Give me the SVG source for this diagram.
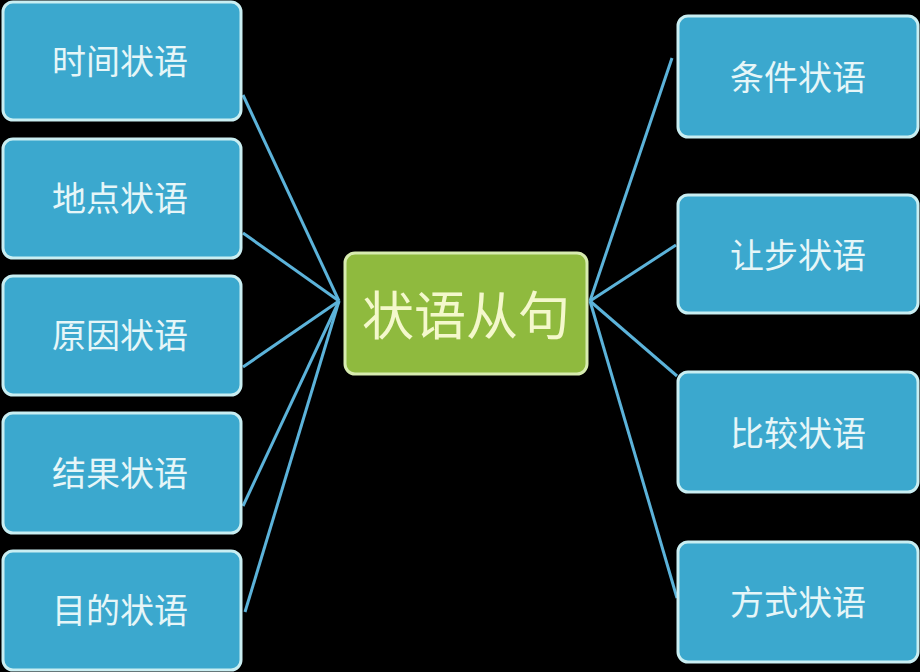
<svg xmlns="http://www.w3.org/2000/svg" width="920" height="672" viewBox="0 0 920 672">
<style>
.box{fill:#3ba8ce;stroke:#c9eef2;stroke-width:3}
.lbl{font-family:"Noto Sans CJK SC","Noto Sans",sans-serif;font-size:34px;fill:#e6f6f8;text-anchor:middle;dominant-baseline:central}
.conn{stroke:#5cb3da;stroke-width:3;fill:none}
.center{fill:#8fba3e;stroke:#d8ecb0;stroke-width:3}
.clbl{font-family:"Noto Sans CJK SC","Noto Sans",sans-serif;font-size:52px;fill:#f4f8cc;text-anchor:middle;dominant-baseline:central}
</style>
<rect width="920" height="672" fill="#000"/>
<g id="connectors">
<line class="conn" x1="243" y1="95" x2="339" y2="301"/>
<line class="conn" x1="243" y1="233" x2="339" y2="301"/>
<line class="conn" x1="243" y1="367" x2="339" y2="301"/>
<line class="conn" x1="243" y1="506" x2="339" y2="301"/>
<line class="conn" x1="245" y1="612" x2="339" y2="301"/>
<line class="conn" x1="672" y1="58" x2="590" y2="301"/>
<line class="conn" x1="676" y1="245" x2="590" y2="301"/>
<line class="conn" x1="677" y1="376" x2="590" y2="301"/>
<line class="conn" x1="677" y1="598" x2="590" y2="301"/>
</g>
<g id="center">
<rect class="center" x="345" y="253" width="242" height="121" rx="10"/>
<text class="clbl" x="466" y="312">状语从句</text>
</g>
<g id="n-time"><rect class="box" x="3" y="2" width="238" height="118" rx="10"/><text class="lbl" x="120" y="59">时间状语</text></g>
<g id="n-place"><rect class="box" x="3" y="139" width="238" height="119" rx="10"/><text class="lbl" x="120" y="196">地点状语</text></g>
<g id="n-reason"><rect class="box" x="3" y="276" width="238" height="119" rx="10"/><text class="lbl" x="120" y="333">原因状语</text></g>
<g id="n-result"><rect class="box" x="3" y="413" width="238" height="120" rx="10"/><text class="lbl" x="120" y="471">结果状语</text></g>
<g id="n-purpose"><rect class="box" x="3" y="551" width="238" height="119" rx="10"/><text class="lbl" x="120" y="608">目的状语</text></g>
<g id="n-condition"><rect class="box" x="678" y="16" width="240" height="121" rx="10"/><text class="lbl" x="798" y="75">条件状语</text></g>
<g id="n-concession"><rect class="box" x="678" y="195" width="240" height="118" rx="10"/><text class="lbl" x="798" y="253">让步状语</text></g>
<g id="n-comparison"><rect class="box" x="678" y="372" width="240" height="120" rx="10"/><text class="lbl" x="798" y="431">比较状语</text></g>
<g id="n-manner"><rect class="box" x="678" y="542" width="240" height="120" rx="10"/><text class="lbl" x="798" y="600">方式状语</text></g>
</svg>
